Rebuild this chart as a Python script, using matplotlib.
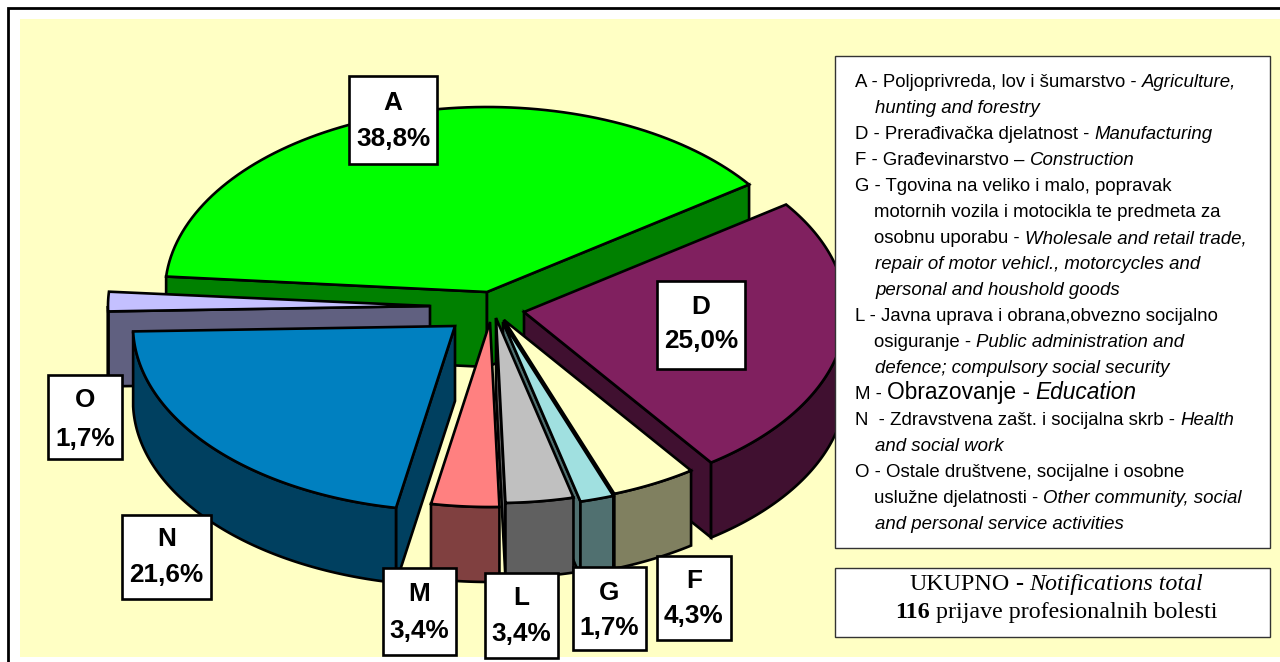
import numpy as np
import matplotlib
matplotlib.use('Agg')
import matplotlib.pyplot as plt
from matplotlib.patches import Rectangle

labels = ['A', 'D', 'F', 'G', 'L', 'M', 'N', 'O']
shares = [38.8, 25.0, 4.3, 1.7, 3.4, 3.4, 21.6, 1.7]
share_text = ['38,8%', '25,0%', '4,3%', '1,7%', '3,4%', '3,4%', '21,6%', '1,7%']
top_colors = ['#00FF00', '#80205F', '#FFFFC4', '#A0E0E0', '#C0C0C0', '#FF8080', '#0080C0', '#C4C0FF']
side_colors = ['#008000', '#401030', '#808060', '#507070', '#606060', '#804040', '#004060', '#606080']

# where each exploded slice has its tip, in pixels
apex = {'A': (487, 292), 'D': (524, 312), 'F': (504, 320), 'G': (503, 322),
        'L': (496, 318), 'M': (490, 322), 'N': (455, 326), 'O': (430, 306)}
label_box = {'A': (349, 76, 437, 164), 'D': (657, 281, 745, 369), 'F': (657, 556, 731, 640),
             'G': (573, 567, 646, 650), 'L': (485, 573, 558, 658), 'M': (383, 568, 456, 655),
             'N': (122, 515, 211, 599), 'O': (48, 375, 122, 459)}
label_ys = {'A': (103, 139), 'D': (307, 341), 'F': (581, 616), 'G': (593, 628),
            'L': (598, 634), 'M': (594, 631), 'N': (539, 575), 'O': (400, 439)}
draw_order = ['A', 'O', 'D', 'F', 'G', 'L', 'M', 'N']

legend_lines = [
    (855, [('A - Poljoprivreda, lov i šumarstvo -', 'r'), ('Agriculture,', 'i')]),
    (875, [('hunting and forestry', 'i')]),
    (855, [('D - Prerađivačka djelatnost -', 'r'), ('Manufacturing', 'i')]),
    (855, [('F - Građevinarstvo –', 'r'), ('Construction', 'i')]),
    (855, [('G - Tgovina na veliko i malo, popravak', 'r')]),
    (874, [('motornih vozila i motocikla te predmeta za', 'r')]),
    (874, [('osobnu uporabu -', 'r'), ('Wholesale and retail trade,', 'i')]),
    (875, [('repair of motor vehicl., motorcycles and', 'i')]),
    (875, [('personal and houshold goods', 'i')]),
    (855, [('L - Javna uprava i obrana,obvezno socijalno', 'r')]),
    (874, [('osiguranje -', 'r'), ('Public administration and', 'i')]),
    (875, [('defence; compulsory social security', 'i')]),
    (855, [('M -', 'r'), ('Obrazovanje -', 'w'), ('Education', 'wi')]),
    (855, [('N  - Zdravstvena zašt. i socijalna skrb -', 'r'), ('Health', 'i')]),
    (875, [('and social work', 'i')]),
    (855, [('O - Ostale društvene, socijalne i osobne', 'r')]),
    (874, [('uslužne djelatnosti -', 'r'), ('Other community, social', 'i')]),
    (875, [('and personal service activities', 'i')]),
]

RX, RY, DEPTH = 322, 185, 75
START = 175.2
LW = 1.9


def arc(cx, cy, t0, t1, n=90):
    ts = np.radians(np.linspace(t0, t1, n))
    return cx + RX * np.cos(ts), cy - RY * np.sin(ts)


def poly(ax, xs, ys, color):
    ax.fill(xs, ys, facecolor=color, edgecolor='black', linewidth=LW, joinstyle='miter')


def radial_face(ax, cx, cy, t, color):
    ox, oy = arc(cx, cy, t, t, 1)
    poly(ax, [cx, ox[0], ox[0], cx], [cy, oy[0], oy[0] + DEPTH, cy + DEPTH], color)


def draw_slice(ax, name, t0, t1):
    cx, cy = apex[name]
    i = labels.index(name)
    if np.cos(np.radians(t0)) < 0:
        radial_face(ax, cx, cy, t0, side_colors[i])
    if np.cos(np.radians(t1)) > 0:
        radial_face(ax, cx, cy, t1, side_colors[i])
    w0, w1 = min(t0, 0), max(t1, -180)
    if w0 > w1:
        xs, ys = arc(cx, cy, w0, w1)
        poly(ax, np.r_[xs, xs[::-1]], np.r_[ys, ys[::-1] + DEPTH], side_colors[i])
    xs, ys = arc(cx, cy, t0, t1)
    poly(ax, np.r_[cx, xs], np.r_[cy, ys], top_colors[i])


fig = plt.figure(figsize=(12.8, 6.62), dpi=100)
ax = fig.add_axes([0, 0, 1, 1])
ax.set_xlim(0, 1280)
ax.set_ylim(662, 0)
ax.axis('off')

ax.add_patch(Rectangle((20, 19), 1260, 638, facecolor='#FFFFC4', edgecolor='none'))
ax.plot([8, 8, 1280], [662, 8, 8], color='black', linewidth=2.0, solid_joinstyle='miter')

angles = {}
t = START
for name, share in zip(labels, shares):
    angles[name] = (t, t - share * 3.6)
    t -= share * 3.6
for name in draw_order:
    draw_slice(ax, name, *angles[name])

for name, txt in zip(labels, share_text):
    x0, y0, x1, y1 = label_box[name]
    ax.add_patch(Rectangle((x0, y0), x1 - x0, y1 - y0, facecolor='white', edgecolor='black',
                           linewidth=LW, zorder=5))
    for s, y in zip((name, txt), label_ys[name]):
        ax.text((x0 + x1) / 2, y, s, ha='center', va='center', family='Liberation Sans',
                weight='bold', fontsize=18.8, zorder=6)

ax.add_patch(Rectangle((835, 56), 435, 492, facecolor='white', edgecolor='#333333', linewidth=1, zorder=5))
ax.add_patch(Rectangle((835, 568), 435, 69, facecolor='white', edgecolor='#333333', linewidth=1, zorder=5))

renderer = fig.canvas.get_renderer()
for row, (x, parts) in enumerate(legend_lines):
    y = 87 + row * 26
    for txt, kind in parts:
        wide = kind.startswith('w')
        t_obj = ax.text(x, y, txt, ha='left', va='baseline', zorder=6, family='Liberation Sans',
                        fontsize=16.4 if wide else 13.4,
                        style='italic' if kind.endswith('i') else 'normal')
        x = t_obj.get_window_extent(renderer).x1 + 5

serif = 'Liberation Serif'
head = [('UKUPNO', 'normal', 'normal'), ('-', 'normal', 'bold'), ('Notifications total', 'italic', 'normal')]
foot = [('116', 'normal', 'bold'), ('prijave profesionalnih bolesti', 'normal', 'normal')]
for parts, y in [(head, 590), (foot, 618)]:
    items = [ax.text(0, y, s, family=serif, style=st, weight=wt, fontsize=17.3, va='baseline', zorder=6)
             for s, st, wt in parts]
    widths = [it.get_window_extent(renderer).width for it in items]
    x = 1056 - (sum(widths) + 6 * (len(items) - 1)) / 2
    for it, w in zip(items, widths):
        it.set_x(x)
        x += w + 6

fig.savefig('out.png', dpi=100)
